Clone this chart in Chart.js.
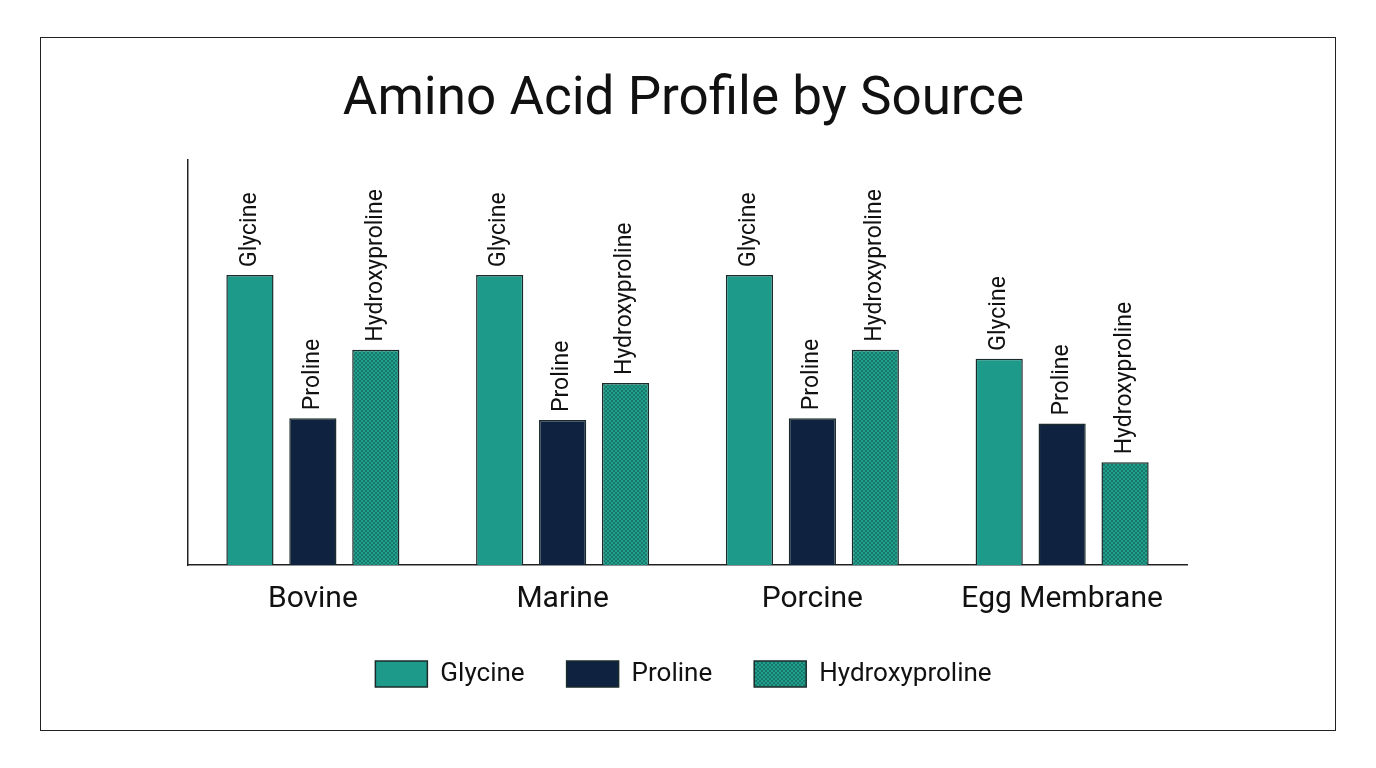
<!DOCTYPE html>
<html>
<head>
<meta charset="utf-8">
<script src="https://cdn.jsdelivr.net/npm/chart.js@4"></script>
<style>
  body { margin: 0; background: #fff; }
  #frame { position: absolute; left: 40px; top: 37px; width: 1294px; height: 692px; border: 1.5px solid #222; }
  canvas { display: block; }
</style>
</head>
<body>
<div id="frame"><canvas id="graph" width="1294" height="692"></canvas></div>
<script>
// values (relative units, no y ticks shown)
var sources = ["Bovine", "Marine", "Porcine", "Egg Membrane"];
var glycine = [32.2, 32.2, 32.2, 22.9];
var proline = [16.3, 16.1, 16.3, 15.7];
var hydroxyproline = [23.9, 20.2, 23.9, 11.4];

var ctx = document.getElementById("graph").getContext('2d');

// checkered teal fill for hydroxyproline
function checker() {
    var c = document.createElement('canvas');
    c.width = 4; c.height = 4;
    var g = c.getContext('2d');
    g.fillStyle = '#22a08e';
    g.fillRect(0, 0, 4, 4);
    g.fillStyle = '#16796b';
    g.fillRect(0, 0, 2, 2);
    g.fillRect(2, 2, 2, 2);
    return ctx.createPattern(c, 'repeat');
}

var barLabels = {
    id: 'barLabels',
    afterDatasetsDraw: function(chart) {
        var c = chart.ctx;
        c.save();
        c.font = '23px Roboto';
        c.fillStyle = '#111';
        c.textAlign = 'left';
        c.textBaseline = 'middle';
        chart.data.datasets.forEach(function(ds, i) {
            chart.getDatasetMeta(i).data.forEach(function(bar) {
                c.save();
                c.translate(bar.x, bar.y - 8);
                c.rotate(-Math.PI / 2);
                c.fillText(ds.label, 0, 0);
                c.restore();
            });
        });
        c.restore();
    }
};

var border = '#1b2b2b';

var chart = new Chart(ctx, {
    type: 'bar',
    data: {
        labels: sources,
        datasets: [
            { label: 'Glycine', data: glycine, backgroundColor: '#1e9a8a', borderColor: border, borderWidth: 1.5 },
            { label: 'Proline', data: proline, backgroundColor: '#0f2340', borderColor: border, borderWidth: 1.5 },
            { label: 'Hydroxyproline', data: hydroxyproline, backgroundColor: checker(), borderColor: border, borderWidth: 1.5 }
        ]
    },
    options: {
        responsive: false,
        animation: false,
        layout: { padding: { left: 139, right: 148, bottom: 33 } },
        datasets: { bar: { barPercentage: 0.75, categoryPercentage: 0.756 } },
        scales: {
            x: {
                grid: { display: false },
                border: { color: '#222', width: 1.5 },
                ticks: { color: '#111', font: { family: 'Roboto', size: 30 }, padding: 8 },
                afterFit: function(scale) { scale.height -= 6; }
            },
            y: {
                min: 0, max: 45,
                grid: { display: false },
                border: { color: '#222', width: 1.5 },
                ticks: { display: false }
            }
        },
        plugins: {
            title: {
                display: true,
                text: 'Amino Acid Profile by Source',
                color: '#111',
                font: { family: 'Roboto', size: 53, weight: 'normal' },
                padding: { top: 31, bottom: 27 }
            },
            legend: {
                position: 'bottom',
                labels: {
                    color: '#111',
                    boxWidth: 52, boxHeight: 26,
                    padding: 42,
                    font: { family: 'Roboto', size: 26 }
                }
            },
            tooltip: { enabled: false }
        }
    },
    plugins: [barLabels]
});
</script>
</body>
</html>
